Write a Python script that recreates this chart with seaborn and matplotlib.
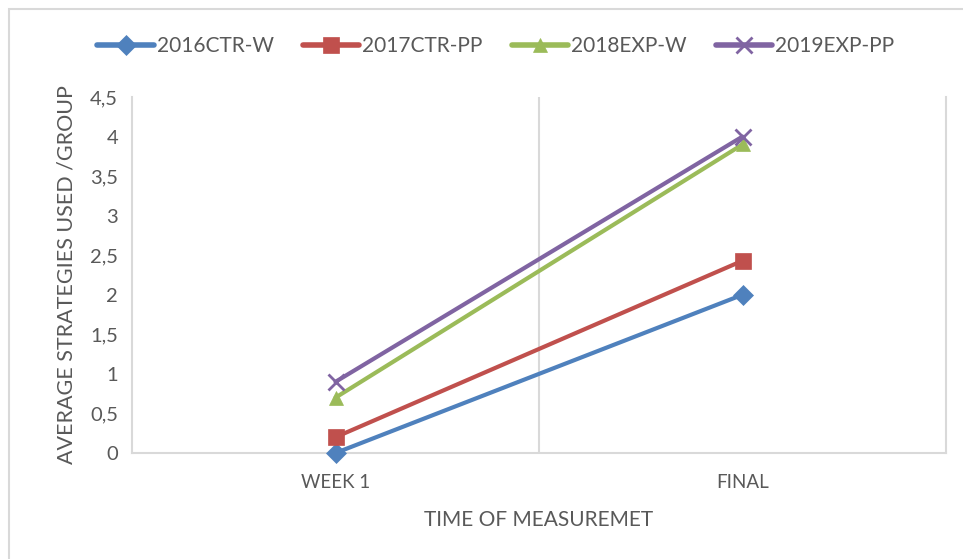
import matplotlib
matplotlib.use("Agg")
import matplotlib.pyplot as plt
import seaborn as sns
import pandas as pd
from matplotlib.ticker import FuncFormatter
from matplotlib.patches import Rectangle

categories = ["WEEK 1", "FINAL"]
series_names = ["2016CTR-W", "2017CTR-PP", "2018EXP-W", "2019EXP-PP"]
s2016 = [0.0, 2.0]
s2017 = [0.2, 2.43]
s2018 = [0.7, 3.9]
s2019 = [0.9, 4.0]
yticks = [0, 0.5, 1, 1.5, 2, 2.5, 3, 3.5, 4, 4.5]

colors = ["#4F81BD", "#C0504D", "#9BBB59", "#8064A2"]
markers = ["D", "s", "^", "x"]
msizes = [10, 11, 10, 11]

rows = []
for name, vals in zip(series_names, [s2016, s2017, s2018, s2019]):
    for i, (c, v) in enumerate(zip(categories, vals)):
        rows.append({"series": name, "pos": i, "time": c, "value": v})
df = pd.DataFrame(rows)

sns.set_theme(style="white")
plt.rcParams["font.family"] = ["Lato", "DejaVu Sans"]
grey = "#595959"
linec = "#D9D9D9"

fig = plt.figure(figsize=(9.63, 5.59), dpi=100)
ax = fig.add_axes([132/963, 1-453/559, (946-132)/963, (453-97)/559])

for name, col, m, ms in zip(series_names, colors, markers, msizes):
    sub = df[df["series"] == name]
    sns.lineplot(data=sub, x="pos", y="value", ax=ax, color=col, marker=m,
                 markersize=ms, linewidth=3, markeredgecolor=col,
                 markeredgewidth=2 if m == "x" else 0.5, label=name,
                 legend=False, zorder=3, clip_on=False)

ax.set_xlim(-0.5, 1.5)
ax.set_ylim(0, 4.5)
ax.set_xticks(range(len(categories)))
ax.set_xticklabels(categories)
ax.set_yticks(yticks)
ax.yaxis.set_major_formatter(FuncFormatter(lambda v, p: (f"{v:g}").replace(".", ",")))
ax.tick_params(axis="y", colors=grey, labelsize=14.5, length=0, pad=10)
ax.tick_params(axis="x", colors=grey, labelsize=13.5, length=0, pad=15)
ax.axvline(0.5, color=linec, lw=1.5, zorder=1)
ax.spines["top"].set_visible(False)
for s in ["left", "bottom", "right"]:
    ax.spines[s].set_color(linec)
    ax.spines[s].set_linewidth(1.5)
    ax.spines[s].set_zorder(0.5)
ax.set_xlabel("TIME OF MEASUREMET", color=grey, fontsize=15, labelpad=14)
ax.set_ylabel("AVERAGE STRATEGIES USED /GROUP", color=grey, fontsize=15.5, labelpad=10)

handles = [plt.Line2D([], [], color=c, lw=4, marker=m, markersize=ms,
                      markeredgecolor=c, markeredgewidth=2 if m == "x" else 0.5)
           for c, m, ms in zip(colors, markers, msizes)]
fig.legend(handles, series_names, loc="center", bbox_to_anchor=(0.515, 1-46/559),
           ncol=4, frameon=False, fontsize=15, handlelength=2.7,
           columnspacing=1.4, handletextpad=0.15, labelcolor=grey)

fig.patches.append(Rectangle((9/963, -0.05), 1.2, 1-9/559+0.05, transform=fig.transFigure,
                             fill=False, edgecolor=linec, lw=1.5))

fig.savefig("out.png", dpi=100, facecolor="white")
